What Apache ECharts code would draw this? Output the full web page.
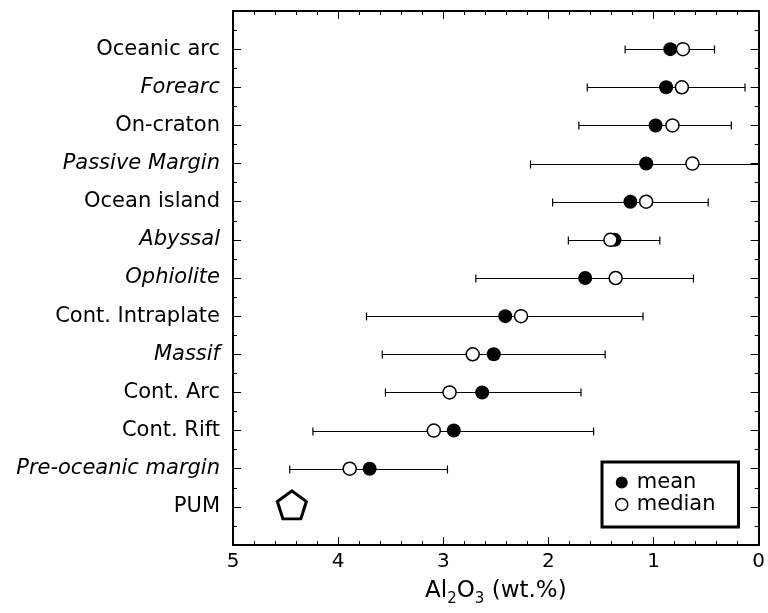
<!DOCTYPE html>
<html>
<head>
<meta charset="utf-8">
<script src="https://cdn.jsdelivr.net/npm/echarts@6/dist/echarts.min.js"></script>
<style>
html,body{margin:0;padding:0;background:#fff;}
#chart{width:768px;height:613px;}
</style>
</head>
<body>
<div id="chart"></div>
<script>
// ---- data ----
const categories = ['Oceanic arc','Forearc','On-craton','Passive Margin','Ocean island','Abyssal','Ophiolite','Cont. Intraplate','Massif','Cont. Arc','Cont. Rift','Pre-oceanic margin','PUM'];
const italicCategories = ['Forearc','Passive Margin','Abyssal','Ophiolite','Massif','Pre-oceanic margin'];
const meanValues   = [0.84, 0.88, 0.98, 1.07, 1.22, 1.37, 1.65, 2.41, 2.52, 2.63, 2.90, 3.70];
const medianValues = [0.72, 0.73, 0.82, 0.63, 1.07, 1.41, 1.36, 2.26, 2.72, 2.94, 3.09, 3.89];
const rangeHigh    = [1.27, 1.63, 1.71, 2.17, 1.96, 1.81, 2.69, 3.73, 3.58, 3.55, 4.24, 4.46];
const rangeLow     = [0.42, 0.13, 0.26, -0.10, 0.48, 0.94, 0.62, 1.10, 1.46, 1.69, 1.57, 2.96];
const pumValue = 4.44;
const xTicks = [0, 1, 2, 3, 4, 5];

// ---- build ----
const FONT = 'DejaVu Sans';
const meanData = meanValues.map((v, i) => [v, i + 1]);
const medianData = medianValues.map((v, i) => [v, i + 1]);
const errData = rangeHigh.map((v, i) => [v, rangeLow[i], i + 1]);
const pumData = [[pumValue, categories.indexOf('PUM') + 1]];

const chart = echarts.init(document.getElementById('chart'), null, {renderer: 'canvas'});

const frameLine = {show: true, onZero: false, lineStyle: {color: '#000', width: 2}};
const xTick = {show: true, inside: true, length: 8, lineStyle: {color: '#000', width: 1}};
const xMinor = {show: true, splitNumber: 5, length: 4, lineStyle: {color: '#000', width: 1}};
const yTick = {show: true, inside: true, length: 8, lineStyle: {color: '#000', width: 1}};
const yMinor = {show: true, splitNumber: 2, length: 4, lineStyle: {color: '#000', width: 1}};

function catLabel(v) {
  const idx = Math.round(v) - 1;
  if (idx < 0 || idx >= categories.length || Math.abs(v - Math.round(v)) > 1e-6) return '';
  const name = categories[idx];
  return italicCategories.indexOf(name) >= 0 ? '{i|' + name + '}' : '{n|' + name + '}';
}

const option = {
  backgroundColor: '#fff',
  animation: false,
  grid: {left: 233, right: 6, top: 11, bottom: 68, containLabel: false},
  legend: {
    show: true,
    left: 602, top: 462,
    orient: 'vertical',
    padding: [10, 23, 12, 13],
    itemGap: 1,
    itemWidth: 20, itemHeight: 12,
    borderColor: '#000', borderWidth: 3,
    backgroundColor: '#fff',
    textStyle: {fontFamily: FONT, fontSize: 21, color: '#000', lineHeight: 20},
    data: [
      {name: 'mean', icon: 'circle', itemStyle: {color: '#000', borderWidth: 0, opacity: 1}},
      {name: 'median', icon: 'circle', itemStyle: {color: '#fff', borderColor: '#000', borderWidth: 1.5, opacity: 1}}
    ]
  },
  xAxis: [
    {
      type: 'value', position: 'bottom', inverse: true,
      min: 0, max: 5, interval: 1,
      axisLine: frameLine, axisTick: xTick, minorTick: xMinor,
      splitLine: {show: false},
      axisLabel: {fontFamily: FONT, fontSize: 20, color: '#000', margin: 7,
        formatter: v => xTicks.indexOf(v) >= 0 ? String(v) : ''},
      name: '{a|Al}{s|2}{a|O}{s|3}{a| (wt.%)}',
      nameLocation: 'middle', nameGap: 30,
      nameTextStyle: {
        rich: {
          a: {fontFamily: FONT, fontSize: 23, color: '#000', lineHeight: 29},
          s: {fontFamily: FONT, fontSize: 15, color: '#000', lineHeight: 15, padding: [15, 0, 0, 0], verticalAlign: 'top'}
        }
      }
    },
    {
      type: 'value', position: 'top', inverse: true,
      min: 0, max: 5, interval: 1,
      axisLine: frameLine, axisTick: xTick, minorTick: xMinor,
      splitLine: {show: false}, axisLabel: {show: false}
    }
  ],
  yAxis: [
    {
      type: 'value', position: 'left', inverse: true,
      min: 0, max: 14, interval: 1,
      axisLine: frameLine, axisTick: yTick, minorTick: yMinor,
      splitLine: {show: false},
      axisLabel: {
        margin: 13, formatter: catLabel,
        rich: {
          n: {fontFamily: FONT, fontSize: 21, color: '#000'},
          i: {fontFamily: FONT, fontSize: 21, color: '#000', fontStyle: 'italic'}
        }
      }
    },
    {
      type: 'value', position: 'right', inverse: true,
      min: 0, max: 14, interval: 1,
      axisLine: frameLine, axisTick: yTick, minorTick: yMinor,
      splitLine: {show: false}, axisLabel: {show: false}
    }
  ],
  series: [
    {
      name: 'range', type: 'custom', z: 1,
      xAxisIndex: 0, yAxisIndex: 0,
      data: errData,
      renderItem: function (params, api) {
        const cs = params.coordSys;
        const row = api.value(2);
        const p1 = api.coord([api.value(0), row]);
        const p2 = api.coord([api.value(1), row]);
        const minX = cs.x, maxX = cs.x + cs.width;
        const x1 = Math.max(minX, Math.min(maxX, p1[0]));
        const x2 = Math.max(minX, Math.min(maxX, p2[0]));
        const y = Math.round(p1[1]) + 0.5;
        const cap = 4;
        const style = {stroke: '#000', lineWidth: 1.2};
        const children = [{type: 'line', shape: {x1: x1, y1: y, x2: x2, y2: y}, style: style}];
        if (x1 === p1[0]) children.push({type: 'line', shape: {x1: x1, y1: y - cap, x2: x1, y2: y + cap}, style: style});
        if (x2 === p2[0]) children.push({type: 'line', shape: {x1: x2, y1: y - cap, x2: x2, y2: y + cap}, style: style});
        return {type: 'group', children: children};
      }
    },
    {
      name: 'mean', type: 'scatter', z: 3,
      symbol: 'circle', symbolSize: 14,
      itemStyle: {color: '#000', borderWidth: 0, opacity: 1},
      data: meanData
    },
    {
      name: 'median', type: 'scatter', z: 4,
      symbol: 'circle', symbolSize: 13,
      itemStyle: {color: '#fff', borderColor: '#000', borderWidth: 1.5, opacity: 1},
      data: medianData
    },
    {
      name: 'PUM', type: 'scatter', z: 4,
      symbol: 'path://M0,-1L0.951,-0.309L0.588,0.809L-0.588,0.809L-0.951,-0.309Z',
      symbolSize: [29, 28],
      symbolOffset: [0, -2],
      itemStyle: {color: '#fff', borderColor: '#000', borderWidth: 3, opacity: 1},
      data: pumData
    }
  ]
};
chart.setOption(option);
</script>
</body>
</html>
